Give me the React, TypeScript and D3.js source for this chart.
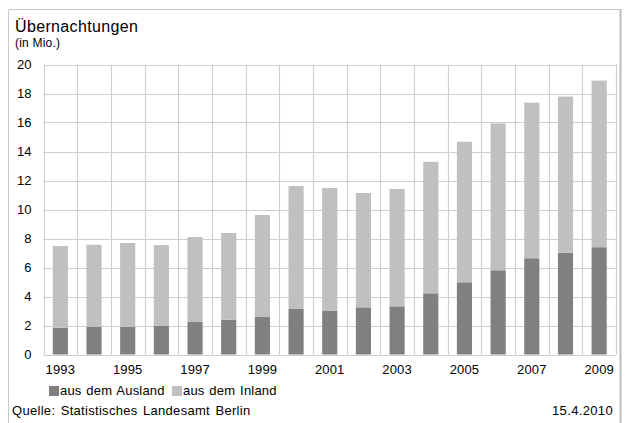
import React from "react";
import * as d3 from "d3";

const years = [1993, 1994, 1995, 1996, 1997, 1998, 1999, 2000, 2001, 2002, 2003, 2004, 2005, 2006, 2007, 2008, 2009];
const ausland = [1.85, 1.92, 1.9, 1.97, 2.24, 2.4, 2.59, 3.14, 3.0, 3.25, 3.32, 4.22, 4.98, 5.81, 6.64, 7.01, 7.4];
const gesamt = [7.48, 7.57, 7.69, 7.55, 8.1, 8.38, 9.62, 11.62, 11.48, 11.14, 11.42, 13.29, 14.67, 15.94, 17.37, 17.79, 18.89];
const yTicks = [0, 2, 4, 6, 8, 10, 12, 14, 16, 18, 20];
const xLabelYears = [1993, 1995, 1997, 1999, 2001, 2003, 2005, 2007, 2009];
const seriesNames = ["aus dem Ausland", "aus dem Inland"];
const title = "Übernachtungen";
const subtitle = "(in Mio.)";
const source = "Quelle: Statistisches Landesamt Berlin";
const dateText = "15.4.2010";

const W = 626;
const H = 423;
const FONT = "'Liberation Sans', Arial, sans-serif";
const DARK = "#808080";
const LIGHT = "#c0c0c0";
const GRID = "#cfcfcf";

export default function App() {
  const x = d3.scaleBand<number>().domain(years).range([43.5, 616]).padding(0);
  const y = d3.scaleLinear().domain([0, 20]).range([354.5, 64.5]);
  const bw = x.bandwidth() * 0.45;
  const inland = gesamt.map((g, i) => g - ausland[i]);
  const stack = d3.stack<any>().keys(["a", "i"])(
    years.map((yr, i) => ({ year: yr, a: ausland[i], i: inland[i] }))
  );
  const colors = [DARK, LIGHT];
  const boundaries = [...years.map((yr) => x(yr)!), x.range()[1]];
  const txt = { letterSpacing: "0.3px", wordSpacing: "1.5px" } as React.CSSProperties;
  const legTxt = { letterSpacing: "0.2px", wordSpacing: "1px" } as React.CSSProperties;

  return (
    <div style={{ position: "absolute", left: 0, top: 0 }}>
      <svg width={W} height={H} style={{ display: "block", fontFamily: FONT }}>
        <rect x={0} y={0} width={W} height={H} fill="#fff" />
        {/* frame */}
        <line x1={8.5} y1={9.5} x2={620} y2={9.5} stroke="#c8c8c8" strokeWidth={1} />
        <line x1={8.5} y1={9.5} x2={8.5} y2={H} stroke="#c8c8c8" strokeWidth={1} />
        <line x1={620.5} y1={9} x2={620.5} y2={H} stroke="#bdbdbd" strokeWidth={2} />

        <text x={15} y={32} fontSize={16} fill="#000" style={{ letterSpacing: "0.35px" }}>{title}</text>
        <text x={15} y={46.5} fontSize={12} fill="#000" style={{ letterSpacing: "0.2px" }}>{subtitle}</text>

        {/* gridlines */}
        {yTicks.map((t) => (
          <line key={"h" + t} x1={43.5} x2={616} y1={Math.round(y(t)) + 0.5} y2={Math.round(y(t)) + 0.5} stroke={GRID} strokeWidth={1.2} />
        ))}
        {boundaries.map((bx, i) => (
          <line key={"v" + i} x1={Math.round(bx) + 0.5} x2={Math.round(bx) + 0.5} y1={y(20)} y2={y(0)} stroke={GRID} strokeWidth={1.2} />
        ))}

        {/* bars */}
        {stack.map((s, si) =>
          s.map((d, i) => (
            <rect
              key={si + "-" + i}
              x={x(years[i])! + (x.bandwidth() - bw) / 2}
              y={y(d[1])}
              width={bw}
              height={y(d[0]) - y(d[1])}
              fill={colors[si]}
            />
          ))
        )}

        {/* y labels */}
        {yTicks.map((t) => (
          <text key={"yl" + t} x={31.5} y={y(t)} dy="0.35em" textAnchor="end" fontSize={13} fill="#000">
            {t}
          </text>
        ))}
        {/* x labels */}
        {xLabelYears.map((yr) => (
          <text key={"xl" + yr} x={x(yr)! + x.bandwidth() / 2} y={374} textAnchor="middle" fontSize={13} fill="#000" style={{ letterSpacing: "0.15px" }}>
            {yr}
          </text>
        ))}

        {/* legend */}
        <rect x={49} y={386} width={10} height={10} fill={DARK} />
        <text x={60} y={395} fontSize={13} fill="#000" style={legTxt}>{seriesNames[0]}</text>
        <rect x={172} y={386} width={10} height={10} fill={LIGHT} />
        <text x={183} y={395} fontSize={13} fill="#000" style={legTxt}>{seriesNames[1]}</text>

        {/* footer */}
        <text x={12} y={415} fontSize={13} fill="#000" style={txt}>{source}</text>
        <text x={613} y={415} textAnchor="end" fontSize={13} fill="#000" style={{ letterSpacing: "0.35px" }}>{dateText}</text>
      </svg>
    </div>
  );
}
